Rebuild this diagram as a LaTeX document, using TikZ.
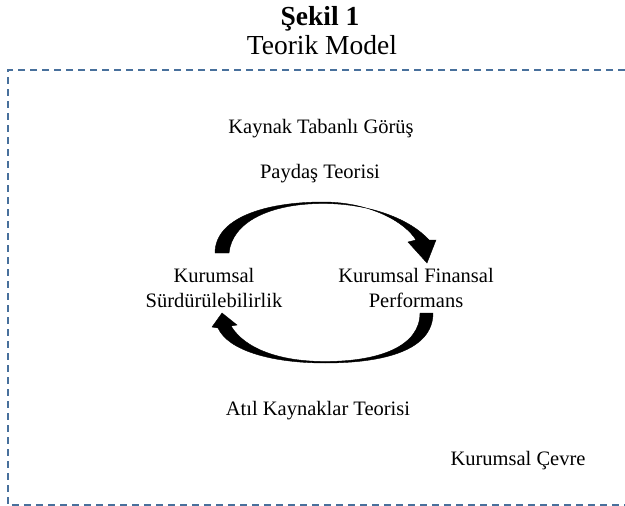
\documentclass[tikz,border=0pt]{standalone}
\usepackage{fontspec}
\setmainfont{Liberation Serif}
\usepackage{tikz}

\definecolor{frameblue}{RGB}{72,112,156}
\tikzset{
  label text/.style={font=\fontsize{20.5}{25}\selectfont, inner sep=0pt},
  title text/.style={font=\fontsize{27.5}{33}\selectfont, inner sep=0pt},
  title bold/.style={font=\fontsize{27.5}{33}\selectfont\bfseries, inner sep=0pt},
  frame line/.style={frameblue, line width=1.3pt, dash pattern=on 7pt off 5pt},
}

\begin{document}
\begin{tikzpicture}[x=1pt,y=-1pt]
\useasboundingbox (0,0) rectangle (625,506);

\node[title bold, anchor=base] (sekil) at (320,25) {Şekil 1};
\node[title text, anchor=base] (model) at (322,54) {Teorik Model};

\draw[frame line] (625,70) -- (8,70) -- (8,505) -- (625,505);

\node[label text, anchor=base] (kaynak) at (321,133) {Kaynak Tabanlı Görüş};
\node[label text, anchor=base] (paydas) at (320,178) {Paydaş Teorisi};
\node[label text, align=center] (surdur) at (214,288) {Kurumsal\\Sürdürülebilirlik};
\node[label text, align=center] (finans) at (416,288) {Kurumsal Finansal\\Performans};
\node[label text, anchor=base] (atil) at (318,415) {Atıl Kaynaklar Teorisi};
\node[label text, anchor=base] (cevre) at (518,465) {Kurumsal Çevre};

\filldraw[black] (215,253) .. controls (215,218) and (265,202) .. (323,202)
  .. controls (370,202) and (405,222) .. (416,240) -- (408,242) -- (427,263)
  -- (436,240) -- (429,240) .. controls (410,219) and (370,203.5) .. (323,203.5)
  .. controls (270,203.5) and (232,222) .. (229,253) -- cycle;

\filldraw[black] (433,313) .. controls (433,350) and (385,363) .. (325,363)
  .. controls (270,363) and (228,350) .. (218,328) -- (212,327) -- (222,313)
  -- (237,325) -- (231,326) .. controls (245,349) and (280,361.5) .. (325,361.5)
  .. controls (380,361.5) and (420,346) .. (420,313) -- cycle;
\end{tikzpicture}
\end{document}
